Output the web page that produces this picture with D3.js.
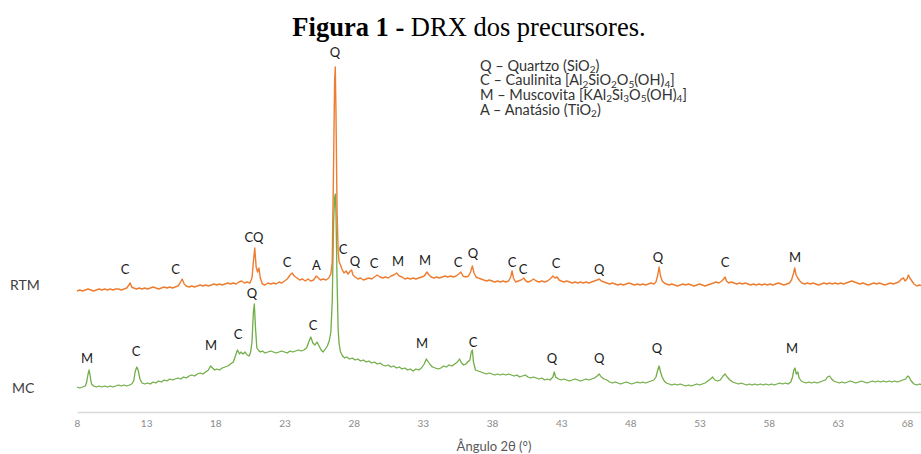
<!DOCTYPE html>
<html><head><meta charset="utf-8">
<script src="https://cdn.jsdelivr.net/npm/d3@7/dist/d3.min.js"></script>
<style>body{margin:0;background:#fff}svg{display:block}</style>
</head><body>
<script>
// ---------- DATA ----------
const titleBold = "Figura 1 -";
const titleRest = " DRX dos precursores.";
const xTicks = [8,13,18,23,28,33,38,43,48,53,58,63,68];
const xTitle = "Ângulo 2θ (°)";
const seriesNames = ["RTM","MC"];
const legendLines = [
  "Q – Quartzo (SiO_2)",
  "C – Caulinita [Al_2SiO_2O_5(OH)_4]",
  "M – Muscovita [KAl_2Si_3O_5(OH)_4]",
  "A – Anatásio (TiO_2)"
];
// [2θ, intensity (a.u., offset stacked)]
const rtmData = [
[8.0,121],[8.2,122],[8.4,121],[8.6,122],[8.8,123],[9.0,122],[9.2,121],[9.4,122],[9.6,123],[9.8,122],[10.0,123],[10.2,122],[10.4,123],[10.6,122],[10.8,123],[11.0,123],[11.2,122],[11.4,123],[11.6,124],[11.75,127],[11.85,129],[11.95,125],[12.1,124],[12.3,123],[12.5,124],[12.7,123],[12.9,124],[13.1,123],[13.3,124],[13.5,125],[13.7,124],[13.9,123],[14.1,124],[14.3,125],[14.5,124],[14.7,125],[14.9,124],[15.1,125],[15.3,126],[15.45,129],[15.6,133],[15.75,128],[15.9,126],[16.1,125],[16.3,126],[16.5,125],[16.7,126],[16.9,127],[17.1,126],[17.3,127],[17.5,126],[17.7,127],[17.9,128],[18.1,127],[18.3,128],[18.5,127],[18.7,128],[18.9,129],[19.1,128],[19.3,129],[19.5,128],[19.7,130],[19.9,131],[20.1,129],[20.3,130],[20.5,129],[20.65,134],[20.75,150],[20.85,164],[20.95,145],[21.05,140],[21.15,144],[21.25,134],[21.4,128],[21.6,127],[21.8,129],[22.0,128],[22.2,129],[22.4,128],[22.6,130],[22.8,129],[23.0,131],[23.2,133],[23.4,137],[23.55,139],[23.7,136],[23.9,134],[24.1,132],[24.3,133],[24.5,131],[24.7,133],[24.9,131],[25.1,132],[25.3,136],[25.45,134],[25.6,132],[25.8,133],[26.0,132],[26.2,134],[26.35,138],[26.45,150],[26.55,250],[26.62,330],[26.67,345],[26.72,300],[26.8,200],[26.88,160],[26.95,150],[27.05,147],[27.15,143],[27.3,139],[27.45,141],[27.6,138],[27.75,141],[27.85,142],[27.95,137],[28.1,135],[28.3,133],[28.5,134],[28.7,132],[28.9,133],[29.1,134],[29.3,133],[29.5,135],[29.7,137],[29.9,135],[30.1,134],[30.3,135],[30.5,134],[30.7,136],[30.9,137],[31.1,139],[31.3,136],[31.5,135],[31.7,133],[31.9,134],[32.1,133],[32.3,134],[32.5,133],[32.7,134],[32.9,135],[33.1,136],[33.3,140],[33.45,137],[33.6,135],[33.8,134],[34.0,135],[34.2,134],[34.4,135],[34.6,136],[34.8,135],[35.0,136],[35.2,135],[35.4,136],[35.6,138],[35.75,140],[35.9,136],[36.1,135],[36.3,136],[36.45,140],[36.58,146],[36.7,139],[36.85,135],[37.0,134],[37.2,133],[37.4,132],[37.6,131],[37.8,132],[38.0,131],[38.2,130],[38.4,131],[38.6,130],[38.8,131],[39.0,130],[39.2,131],[39.35,135],[39.45,141],[39.55,134],[39.7,130],[39.9,131],[40.1,132],[40.3,134],[40.45,131],[40.6,130],[40.8,131],[41.0,133],[41.2,131],[41.4,130],[41.6,131],[41.8,130],[42.0,131],[42.2,133],[42.4,136],[42.55,134],[42.7,135],[42.85,132],[43.0,131],[43.2,130],[43.4,131],[43.6,130],[43.8,129],[44.0,130],[44.2,129],[44.4,130],[44.6,129],[44.8,130],[45.0,129],[45.2,130],[45.4,131],[45.6,132],[45.75,133],[45.9,131],[46.1,130],[46.3,129],[46.5,128],[46.7,129],[46.9,128],[47.1,127],[47.3,128],[47.5,127],[47.7,128],[47.9,129],[48.1,128],[48.3,127],[48.5,128],[48.7,127],[48.9,128],[49.1,127],[49.3,128],[49.5,129],[49.7,128],[49.85,130],[49.98,137],[50.08,145],[50.18,136],[50.3,131],[50.45,129],[50.6,128],[50.8,127],[51.0,128],[51.2,127],[51.4,126],[51.6,127],[51.8,128],[52.0,127],[52.2,128],[52.4,127],[52.6,126],[52.8,127],[53.0,128],[53.2,127],[53.4,126],[53.6,127],[53.8,128],[54.0,129],[54.2,130],[54.4,129],[54.6,131],[54.75,133],[54.85,135],[54.95,131],[55.1,129],[55.3,130],[55.5,129],[55.7,128],[55.9,129],[56.1,128],[56.3,129],[56.5,128],[56.7,127],[56.9,128],[57.1,127],[57.3,128],[57.5,127],[57.7,128],[57.9,127],[58.1,128],[58.3,127],[58.5,128],[58.7,129],[58.9,128],[59.1,127],[59.3,128],[59.5,129],[59.65,132],[59.78,138],[59.88,144],[59.98,137],[60.1,134],[60.25,131],[60.4,129],[60.6,128],[60.8,129],[61.0,128],[61.2,129],[61.4,128],[61.6,127],[61.8,128],[62.0,129],[62.2,128],[62.4,129],[62.6,128],[62.8,129],[63.0,128],[63.2,129],[63.4,128],[63.6,129],[63.8,130],[64.0,131],[64.2,130],[64.4,129],[64.6,128],[64.8,129],[65.0,128],[65.2,127],[65.4,128],[65.6,129],[65.8,128],[66.0,129],[66.2,128],[66.4,127],[66.6,128],[66.8,129],[67.0,128],[67.2,129],[67.4,130],[67.6,133],[67.75,134],[67.85,131],[68.0,133],[68.1,137],[68.2,134],[68.35,131],[68.5,128],[68.7,126],[68.9,127],[69.1,126],[69.3,127],[69.5,126]
];
const mcData = [
[8.0,25],[8.2,24],[8.4,25],[8.6,26],[8.7,30],[8.8,38],[8.88,42],[8.95,36],[9.05,28],[9.2,26],[9.4,25],[9.6,26],[9.8,25],[10.0,26],[10.2,25],[10.4,26],[10.6,25],[10.8,26],[11.0,27],[11.2,26],[11.4,27],[11.6,26],[11.8,27],[11.95,28],[12.1,31],[12.2,40],[12.32,45],[12.42,42],[12.55,33],[12.7,29],[12.9,28],[13.1,29],[13.3,28],[13.5,30],[13.7,29],[13.9,31],[14.1,30],[14.3,32],[14.5,31],[14.7,33],[14.9,32],[15.1,33],[15.3,34],[15.5,33],[15.7,35],[15.9,34],[16.1,36],[16.3,37],[16.5,36],[16.7,38],[16.9,39],[17.1,38],[17.3,40],[17.5,42],[17.65,46],[17.8,44],[17.95,42],[18.1,43],[18.3,42],[18.5,44],[18.7,45],[18.9,46],[19.1,48],[19.3,50],[19.45,56],[19.6,62],[19.75,58],[19.85,60],[20.0,58],[20.15,60],[20.3,57],[20.45,56],[20.55,60],[20.65,70],[20.75,100],[20.82,108],[20.9,85],[21.0,64],[21.1,62],[21.25,60],[21.4,61],[21.6,59],[21.8,60],[22.0,61],[22.2,60],[22.4,59],[22.6,60],[22.8,61],[23.0,60],[23.2,59],[23.4,61],[23.6,60],[23.8,61],[24.0,62],[24.2,61],[24.4,62],[24.6,64],[24.75,70],[24.9,75],[25.05,69],[25.2,67],[25.35,70],[25.5,66],[25.65,62],[25.8,60],[25.95,63],[26.1,66],[26.25,72],[26.35,80],[26.45,110],[26.55,190],[26.62,214],[26.67,218],[26.72,200],[26.8,130],[26.88,82],[26.95,68],[27.05,60],[27.2,56],[27.35,54],[27.5,55],[27.7,53],[27.9,54],[28.1,52],[28.3,53],[28.5,51],[28.7,52],[28.9,50],[29.1,51],[29.3,49],[29.5,50],[29.7,48],[29.9,49],[30.1,47],[30.3,46],[30.5,47],[30.7,45],[30.9,46],[31.1,44],[31.3,45],[31.5,43],[31.7,44],[31.9,42],[32.1,43],[32.3,41],[32.5,43],[32.7,42],[32.9,44],[33.1,48],[33.25,53],[33.4,50],[33.55,47],[33.7,45],[33.9,44],[34.1,43],[34.3,44],[34.5,46],[34.7,45],[34.9,47],[35.1,46],[35.3,48],[35.5,50],[35.65,53],[35.8,49],[35.95,47],[36.1,48],[36.25,50],[36.4,52],[36.5,60],[36.58,62],[36.66,50],[36.8,42],[37.0,41],[37.2,40],[37.4,39],[37.6,38],[37.8,39],[38.0,38],[38.2,37],[38.4,38],[38.6,37],[38.8,38],[39.0,37],[39.2,38],[39.4,37],[39.6,36],[39.8,37],[40.0,35],[40.2,36],[40.4,37],[40.6,35],[40.8,34],[41.0,35],[41.2,34],[41.4,33],[41.6,34],[41.8,32],[42.0,33],[42.2,32],[42.4,35],[42.5,40],[42.6,35],[42.8,33],[43.0,32],[43.2,33],[43.4,32],[43.6,31],[43.8,32],[44.0,33],[44.2,32],[44.4,31],[44.6,32],[44.8,33],[45.0,32],[45.2,33],[45.4,34],[45.6,36],[45.75,38],[45.9,35],[46.1,33],[46.3,32],[46.5,30],[46.7,29],[46.9,30],[47.1,29],[47.3,28],[47.5,29],[47.7,30],[47.9,29],[48.1,28],[48.3,29],[48.5,30],[48.7,29],[48.9,30],[49.1,29],[49.3,30],[49.5,31],[49.7,32],[49.85,35],[49.98,42],[50.08,46],[50.18,40],[50.3,35],[50.45,31],[50.6,29],[50.8,28],[51.0,27],[51.2,28],[51.4,27],[51.6,28],[51.8,27],[52.0,26],[52.2,27],[52.4,26],[52.6,27],[52.8,28],[53.0,27],[53.2,28],[53.4,29],[53.6,31],[53.8,33],[53.95,35],[54.1,32],[54.3,31],[54.5,32],[54.7,36],[54.85,38],[55.0,35],[55.2,32],[55.4,30],[55.6,29],[55.8,28],[56.0,29],[56.2,28],[56.4,27],[56.6,28],[56.8,27],[57.0,28],[57.2,27],[57.4,28],[57.6,27],[57.8,28],[58.0,27],[58.2,28],[58.4,27],[58.6,28],[58.8,29],[59.0,28],[59.2,29],[59.4,28],[59.6,30],[59.72,35],[59.82,42],[59.9,44],[60.0,38],[60.1,40],[60.2,34],[60.35,31],[60.5,30],[60.7,29],[60.9,30],[61.1,29],[61.3,30],[61.5,29],[61.7,30],[61.9,31],[62.1,32],[62.25,35],[62.4,36],[62.55,33],[62.7,31],[62.9,30],[63.1,29],[63.3,30],[63.5,29],[63.7,30],[63.9,31],[64.1,30],[64.3,29],[64.5,30],[64.7,31],[64.9,30],[65.1,29],[65.3,30],[65.5,31],[65.7,30],[65.9,31],[66.1,30],[66.3,31],[66.5,30],[66.7,31],[66.9,30],[67.1,31],[67.3,30],[67.5,31],[67.7,32],[67.9,33],[68.05,36],[68.15,35],[68.3,31],[68.5,28],[68.7,27],[68.9,28],[69.1,27],[69.3,28],[69.5,27]
];
// phase labels: [2θ, label height (a.u.), phase letters]
const rtmPeaks = [[11.47,138,"C"],[15.12,138,"C"],[20.8,170,"CQ"],[23.18,145,"C"],[25.31,142,"A"],[26.65,355,"Q"],[27.23,158,"C"],[28.1,146,"Q"],[29.48,144,"C"],[31.2,146,"M"],[33.16,147,"M"],[35.54,145,"C"],[36.63,154,"Q"],[39.45,145,"C"],[40.24,138,"C"],[42.63,144,"C"],[45.74,138,"Q"],[50.0,150,"Q"],[54.84,145,"C"],[59.9,150,"M"]];
const mcPeaks = [[8.72,49,"M"],[12.27,56,"C"],[17.69,62,"M"],[19.64,73,"C"],[20.65,114,"Q"],[25.06,82,"C"],[32.94,64,"M"],[36.63,65,"C"],[42.34,49,"Q"],[45.74,49,"Q"],[49.93,59,"Q"],[59.69,59,"M"]];

// ---------- CHART ----------
const W = 921, H = 454;
const svg = d3.select("body").append("svg").attr("width", W).attr("height", H)
  .style("background","#fff");
const x = d3.scaleLinear().domain([8, 70]).range([77, 934.7]);
const y = d3.scaleLinear().domain([0, 350]).range([412, 62]);
const SANS = "Lato, 'Open Sans', sans-serif";

// title
const t = svg.append("text").attr("x", 469).attr("y", 36).attr("text-anchor","middle")
  .attr("font-family","'Liberation Serif','Times New Roman',serif").attr("font-size",26.5).attr("fill","#000");
t.append("tspan").attr("font-weight","bold").text(titleBold);
t.append("tspan").text(titleRest);

// x axis
const ax = svg.append("g").attr("transform","translate(0,412)")
  .call(d3.axisBottom(x).tickValues(xTicks).tickSize(0).tickPadding(8).tickFormat(d3.format("d")));
ax.select(".domain").attr("stroke","#d9d9d9").attr("stroke-width",1.3);
ax.selectAll("text").attr("font-family",SANS).attr("font-size",10).attr("fill","#8a8a8a");

svg.append("text").attr("x", 494).attr("y", 451).attr("text-anchor","middle")
  .attr("font-family",SANS).attr("font-size",13).attr("fill","#595959").text(xTitle);

// lines
const line = d3.line().x(d => x(d[0])).y(d => y(d[1]));
svg.append("path").datum(mcData).attr("d", line).attr("fill","none")
  .attr("stroke","#70AD47").attr("stroke-width",1.3).attr("stroke-linejoin","round");
svg.append("path").datum(rtmData).attr("d", line).attr("fill","none")
  .attr("stroke","#ED7D31").attr("stroke-width",1.4).attr("stroke-linejoin","round");

// series names
svg.append("text").attr("x",10).attr("y",290).attr("font-family",SANS).attr("font-size",14)
  .attr("fill","#404040").text(seriesNames[0]);
svg.append("text").attr("x",12).attr("y",393).attr("font-family",SANS).attr("font-size",14)
  .attr("fill","#404040").text(seriesNames[1]);

// peak labels
svg.append("g").selectAll("text").data(rtmPeaks.concat(mcPeaks)).join("text")
  .attr("x", d => x(d[0])).attr("y", d => y(d[1])).attr("text-anchor","middle")
  .attr("font-family",SANS).attr("font-size",13).attr("fill","#1a1a1a").text(d => d[2]);

// legend with subscripts
const lg = svg.append("g");
legendLines.forEach((s, i) => {
  const tx = lg.append("text").attr("x", 480).attr("y", 70.5 + i * 14.7)
    .attr("font-family",SANS).attr("font-size",14.5).attr("fill","#333");
  const parts = s.split(/_(\d)/);
  let lowered = false;
  parts.forEach((p, j) => {
    if (p === "") return;
    if (j % 2 === 1) {
      tx.append("tspan").attr("font-size",10).attr("dy",lowered ? 0 : 2.5).text(p);
      lowered = true;
    } else {
      tx.append("tspan").attr("dy",lowered ? -2.5 : 0).text(p);
      lowered = false;
    }
  });
});
</script>
</body></html>
